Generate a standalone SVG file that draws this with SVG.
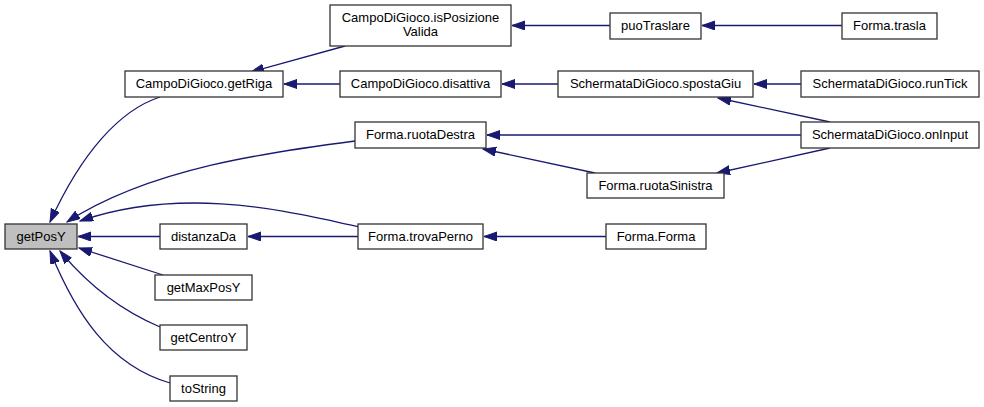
<svg xmlns="http://www.w3.org/2000/svg" width="984" height="407" viewBox="0 0 984 407">
<style>
.n rect{fill:#fff;stroke:#333;stroke-width:1.3}
.n.h rect{fill:#bfbfbf}
.n text{font-family:"Liberation Sans",Arial,sans-serif;font-size:13px;fill:#000;text-anchor:middle}
.e path{fill:none;stroke:#191970;stroke-width:1.3;marker-end:url(#a)}
</style>
<defs>
<marker id="a" markerUnits="userSpaceOnUse" markerWidth="14" markerHeight="10" refX="13" refY="4.5" orient="auto">
<path d="M0,0 L13,4.5 L0,9 z" fill="#191970" stroke="#191970"/>
</marker>
</defs>
<rect width="984" height="407" fill="#fff"/>
<g id="edges" class="e">
<path d="M160,97 C120,110 82,152 50,222"/>
<path d="M355,141 C270,152 150,168 67,222"/>
<path d="M361,227 C300,215 190,183 80,221"/>
<path d="M160,236.5 L78,236.5"/>
<path d="M163,275 L79,248"/>
<path d="M160,327 C120,310 88,285 60,251"/>
<path d="M170,383 C108,365 75,312 50,251"/>
<path d="M345,46 L251,72"/>
<path d="M340,84 L284,84"/>
<path d="M610,25.5 L512,25.5"/>
<path d="M842,25.5 L702,25.5"/>
<path d="M558,84 L502,84"/>
<path d="M801,84 L754,84"/>
<path d="M830,122 L718,98"/>
<path d="M801,135 L487,135"/>
<path d="M830,148 L717,173"/>
<path d="M595,173 L483,149"/>
<path d="M606,236.5 L484,236.5"/>
<path d="M358,236.5 L248,236.5"/>
</g>
<g id="getPosY" class="n h"><rect x="5" y="224" width="72" height="25"/><text x="41" y="241">getPosY</text></g>
<g id="getRiga" class="n"><rect x="125" y="71" width="158" height="26"/><text x="204" y="88">CampoDiGioco.getRiga</text></g>
<g id="isPosizioneValida" class="n"><rect x="330" y="5" width="181" height="41"/><text x="420.5" y="22">CampoDiGioco.isPosizione</text><text x="420.5" y="36">Valida</text></g>
<g id="disattiva" class="n"><rect x="340" y="71" width="161" height="26"/><text x="420.5" y="88">CampoDiGioco.disattiva</text></g>
<g id="ruotaDestra" class="n"><rect x="355" y="122" width="131" height="26"/><text x="420.5" y="139">Forma.ruotaDestra</text></g>
<g id="trovaPerno" class="n"><rect x="358" y="224" width="125" height="25"/><text x="420.5" y="240.5">Forma.trovaPerno</text></g>
<g id="distanzaDa" class="n"><rect x="160" y="224" width="87" height="25"/><text x="203.5" y="240.5">distanzaDa</text></g>
<g id="getMaxPosY" class="n"><rect x="155" y="275" width="97" height="25"/><text x="203.5" y="291.5">getMaxPosY</text></g>
<g id="getCentroY" class="n"><rect x="160" y="325" width="87" height="25"/><text x="203.5" y="341.5">getCentroY</text></g>
<g id="toString" class="n"><rect x="170" y="376" width="67" height="25"/><text x="203.5" y="392.5">toString</text></g>
<g id="puoTraslare" class="n"><rect x="610" y="13" width="91" height="26"/><text x="655.5" y="29.5">puoTraslare</text></g>
<g id="spostaGiu" class="n"><rect x="558" y="71" width="195" height="26"/><text x="655.5" y="88">SchermataDiGioco.spostaGiu</text></g>
<g id="ruotaSinistra" class="n"><rect x="587" y="173" width="137" height="25"/><text x="655.5" y="189.5">Forma.ruotaSinistra</text></g>
<g id="FormaForma" class="n"><rect x="606" y="224" width="100" height="25"/><text x="656" y="240.5">Forma.Forma</text></g>
<g id="trasla" class="n"><rect x="842" y="13" width="95" height="26"/><text x="889.5" y="29.5">Forma.trasla</text></g>
<g id="runTick" class="n"><rect x="801" y="71" width="178" height="26"/><text x="890" y="88">SchermataDiGioco.runTick</text></g>
<g id="onInput" class="n"><rect x="801" y="122" width="178" height="26"/><text x="890" y="139">SchermataDiGioco.onInput</text></g>
</svg>
